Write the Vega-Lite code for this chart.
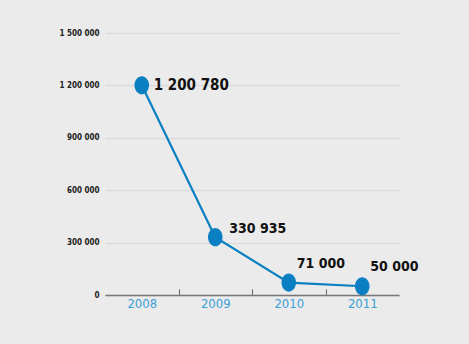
{
  "$schema": "https://vega.github.io/schema/vega-lite/v6.json",
  "width": 294,
  "height": 262,
  "autosize": "none",
  "padding": {"left": 105, "top": 33, "right": 70, "bottom": 49},
  "background": "#ebebeb",
  "config": {
    "view": {"stroke": null},
    "font": "DejaVu Sans Condensed, Roboto, sans-serif"
  },
  "data": {
    "values": [
      {"year": "2008", "value": 1200780},
      {"year": "2009", "value": 330935},
      {"year": "2010", "value": 71000},
      {"year": "2011", "value": 50000}
    ]
  },
  "transform": [
    {"calculate": "replace(format(datum.value, ','), /,/g, ' ')", "as": "label"}
  ],
  "encoding": {
    "x": {
      "field": "year",
      "type": "ordinal",
      "scale": {"paddingInner": 0, "paddingOuter": 0},
      "axis": {
        "title": null,
        "labelAngle": 0,
        "labelColor": "#3a9fd6",
        "labelFontSize": 13,
        "labelFont": "DejaVu Sans Condensed, Roboto, sans-serif",
        "labelPadding": 8,
        "domainColor": "#777777",
        "domainWidth": 1.5,
        "tickBand": "extent",
        "tickColor": "#666666",
        "tickOpacity": {"condition": {"test": "datum.value == '2011' || datum.extra", "value": 0}, "value": 1},
        "tickSize": -6,
        "tickWidth": 1,
        "grid": false
      }
    },
    "y": {
      "field": "value",
      "type": "quantitative",
      "scale": {"domain": [0, 1500000]},
      "axis": {
        "title": null,
        "values": [0, 300000, 600000, 900000, 1200000, 1500000],
        "labelExpr": "replace(format(datum.value, ','), /,/g, ' ')",
        "labelColor": "#222222",
        "labelFontSize": 8,
        "labelFont": "DejaVu Sans Condensed, Roboto, sans-serif",
        "labelFontWeight": "bold",
        "labelPadding": 6,
        "domain": false,
        "ticks": false,
        "grid": true,
        "gridColor": "#dcdcdc",
        "gridWidth": 1.5
      }
    }
  },
  "layer": [
    {"mark": {"type": "line", "color": "#0a7fc2", "strokeWidth": 2.2}},
    {"mark": {"type": "point", "shape": "M-0.8,0A0.8,1,0,1,0,0.8,0A0.8,1,0,1,0,-0.8,0Z", "filled": true, "color": "#0a7fc2", "opacity": 1, "size": 330}},
    {
      "transform": [{"filter": "datum.year == '2008'"}],
      "mark": {"type": "text", "align": "left", "baseline": "middle", "dx": 12, "dy": 0, "fontSize": 15, "fontWeight": "bold", "color": "#111111"},
      "encoding": {"text": {"field": "label"}}
    },
    {
      "transform": [{"filter": "datum.year == '2009'"}],
      "mark": {"type": "text", "align": "left", "baseline": "middle", "dx": 14, "dy": -8, "fontSize": 14, "fontWeight": "bold", "color": "#111111"},
      "encoding": {"text": {"field": "label"}}
    },
    {
      "transform": [{"filter": "datum.year == '2010' || datum.year == '2011'"}],
      "mark": {"type": "text", "align": "left", "baseline": "middle", "dx": 8, "dy": -19, "fontSize": 14, "fontWeight": "bold", "color": "#111111"},
      "encoding": {"text": {"field": "label"}}
    }
  ]
}
